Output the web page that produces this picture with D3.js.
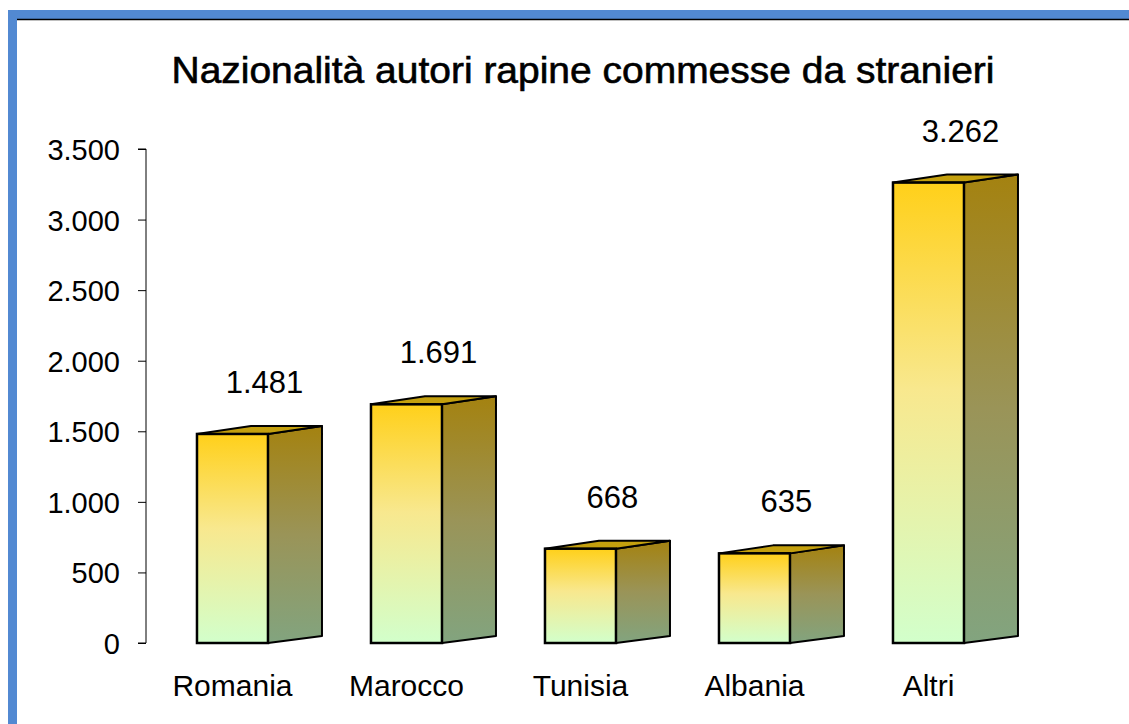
<!DOCTYPE html>
<html>
<head>
<meta charset="utf-8">
<script src="https://cdn.jsdelivr.net/npm/d3@7"></script>
<style>
  body { margin: 0; background: #fff; }
  text { font-family: "Liberation Sans", Arial, sans-serif; fill: #000; }
</style>
</head>
<body>
<div id="chart"></div>
<script>
// Data
var categories = ["Romania", "Marocco", "Tunisia", "Albania", "Altri"];
var values = [1481, 1691, 668, 635, 3262];
var yTicks = [0, 500, 1000, 1500, 2000, 2500, 3000, 3500];
var chartTitle = "Nazionalità autori rapine commesse da stranieri";

// Create parameters
var svgWidth = 1129;
var svgHeight = 724;

var margin = { top: 150, bottom: 81, left: 146, right: 113 };
var plotBottom = svgHeight - margin.bottom;

// depth of the 3d boxes
var depthX = 54;
var depthY = 8;

var fmt = d3.formatLocale({ decimal: ",", thousands: ".", grouping: [3], currency: ["", "€"] }).format(",d");

var svg = d3.select("#chart")
  .append("svg")
  .attr("width", svgWidth)
  .attr("height", svgHeight);

var defs = svg.append("defs");

var frontGrad = defs.append("linearGradient")
  .attr("id", "frontGrad")
  .attr("x1", 0).attr("y1", 0).attr("x2", 0).attr("y2", 1);
frontGrad.append("stop").attr("offset", "0%").attr("stop-color", "#ffd01a");
frontGrad.append("stop").attr("offset", "45%").attr("stop-color", "#f8e88e");
frontGrad.append("stop").attr("offset", "100%").attr("stop-color", "#d2ffcb");

var sideGrad = defs.append("linearGradient")
  .attr("id", "sideGrad")
  .attr("x1", 0).attr("y1", 0).attr("x2", 0).attr("y2", 1);
sideGrad.append("stop").attr("offset", "0%").attr("stop-color", "#a48210");
sideGrad.append("stop").attr("offset", "50%").attr("stop-color", "#9a9458");
sideGrad.append("stop").attr("offset", "100%").attr("stop-color", "#82a47f");

// Frame
// ==============================
svg.append("rect")
  .attr("x", 8).attr("y", 10)
  .attr("width", svgWidth - 8).attr("height", 9)
  .attr("fill", "#5289d2");

svg.append("rect")
  .attr("x", 8).attr("y", 10)
  .attr("width", 9).attr("height", svgHeight - 10)
  .attr("fill", "#5289d2");

svg.append("line")
  .attr("x1", 17).attr("x2", svgWidth)
  .attr("y1", 19.5).attr("y2", 19.5)
  .attr("stroke", "#000")
  .attr("stroke-width", 1.5);

// Title
svg.append("text")
  .attr("x", 583)
  .attr("y", 83)
  .attr("text-anchor", "middle")
  .attr("textLength", 823)
  .attr("lengthAdjust", "spacingAndGlyphs")
  .style("font-size", "36px")
  .style("stroke", "#000")
  .style("stroke-width", 0.6)
  .text(chartTitle);

// Scales
// ==============================
var xBandScale = d3.scaleBand()
  .domain(categories)
  .range([margin.left, svgWidth - margin.right])
  .padding(0);

var yLinearScale = d3.scaleLinear()
  .domain([0, 3500])
  .range([plotBottom, margin.top - 1]);

var bw = xBandScale.bandwidth();
var frontOffset = bw * 0.293;
var frontWidth = bw * 0.408;

// Left axis
// ==============================
var leftAxis = d3.axisLeft(yLinearScale)
  .tickValues(yTicks)
  .tickSize(8)
  .tickPadding(18)
  .tickFormat(fmt);

var axisG = svg.append("g")
  .attr("transform", `translate(${margin.left}, 0)`)
  .call(leftAxis);

axisG.select(".domain")
  .attr("d", `M-8,${yLinearScale(3500)}H0V${yLinearScale(0)}H-8`)
  .attr("stroke", "#000");
axisG.selectAll(".tick line").attr("stroke", "#000");
axisG.selectAll(".tick text")
  .style("font-size", "29px")
  .attr("dy", "0.36em")
  .attr("fill", "#000");

// Bars
// ==============================
var data = categories.map(function(c, i) { return { cat: c, value: values[i] }; });

var bars = svg.append("g")
  .selectAll("g")
  .data(data)
  .enter()
  .append("g");

// side face
bars.append("path")
  .attr("d", function(d) {
    var x1 = xBandScale(d.cat) + frontOffset + frontWidth;
    var top = yLinearScale(d.value);
    return `M${x1},${top}L${x1 + depthX},${top - depthY}L${x1 + depthX},${plotBottom - depthY + 1}L${x1},${plotBottom}Z`;
  })
  .attr("fill", "url(#sideGrad)")
  .attr("stroke", "#000")
  .attr("stroke-width", 2)
  .attr("stroke-linejoin", "round");

// top face
bars.append("path")
  .attr("d", function(d) {
    var x0 = xBandScale(d.cat) + frontOffset;
    var x1 = x0 + frontWidth;
    var top = yLinearScale(d.value);
    return `M${x0},${top}L${x1},${top}L${x1 + depthX},${top - depthY}L${x0 + depthX},${top - depthY}Z`;
  })
  .attr("fill", "#c4a00e")
  .attr("stroke", "#000")
  .attr("stroke-width", 2)
  .attr("stroke-linejoin", "round");

// front face
bars.append("rect")
  .attr("x", d => xBandScale(d.cat) + frontOffset)
  .attr("y", d => yLinearScale(d.value))
  .attr("width", frontWidth)
  .attr("height", d => plotBottom - yLinearScale(d.value))
  .attr("fill", "url(#frontGrad)")
  .attr("stroke", "#000")
  .attr("stroke-width", 2.5);

// value labels
bars.append("text")
  .attr("x", d => xBandScale(d.cat) + frontOffset + frontWidth / 2 + 32)
  .attr("y", d => yLinearScale(d.value) - 41)
  .attr("text-anchor", "middle")
  .style("font-size", "31px")
  .text(d => fmt(d.value));

// Category labels
// ==============================
svg.append("g")
  .selectAll("text")
  .data(categories)
  .enter()
  .append("text")
  .attr("x", d => xBandScale(d) + frontOffset + frontWidth / 2)
  .attr("y", 696)
  .attr("text-anchor", "middle")
  .style("font-size", "30px")
  .text(d => d);
</script>
</body>
</html>
